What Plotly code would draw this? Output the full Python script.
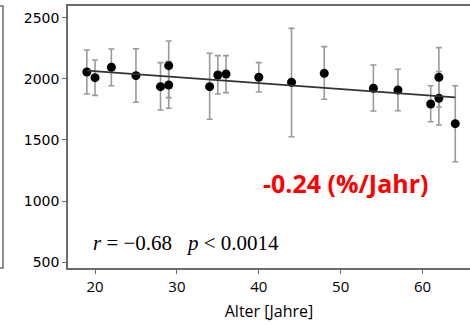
import plotly.graph_objects as go

age = [19, 20, 22, 25, 28, 29, 29, 34, 35, 36, 40, 44, 48, 54, 57, 61, 62, 62, 64]
value = [2057, 2011, 2096, 2027, 1937, 2109, 1951, 1937, 2033, 2041, 2014, 1973, 2046, 1924, 1910, 1795, 2014, 1842, 1634]
err_plus = [181, 145, 150, 221, 197, 202, 191, 274, 158, 150, 120, 442, 219, 191, 170, 150, 243, 219, 311]
err_minus = [180, 145, 151, 218, 191, 262, 191, 267, 156, 153, 121, 446, 212, 186, 170, 145, 244, 219, 312]

fit_x = [19, 64]
fit_y = [2068, 1850]

slope_label = "-0.24 (%/Jahr)"
stats_label = "<i>r</i> = −0.68 &nbsp;&nbsp;<i>p</i> < 0.0014"
x_title = "Alter [Jahre]"
x_ticks = [20, 30, 40, 50, 60]
y_ticks = [500, 1000, 1500, 2000, 2500]

axis_col = "#6b6b6b"

fig = go.Figure()
fig.add_trace(go.Scatter(
    x=age, y=value, mode="markers",
    marker=dict(color="black", size=9),
    error_y=dict(type="data", symmetric=False, array=err_plus, arrayminus=err_minus,
                 color="#9a9a9a", thickness=1.6, width=3),
    showlegend=False,
))
fig.add_trace(go.Scatter(
    x=fit_x, y=fit_y, mode="lines",
    line=dict(color="#333333", width=1.8), showlegend=False,
))

fig.add_annotation(x=50.6, y=1148, text=slope_label, showarrow=False,
                   font=dict(family="Open Sans", size=25, color="#ff0000", weight="bold"))
fig.add_annotation(x=31.1, y=656, text=stats_label, showarrow=False,
                   font=dict(family="Liberation Serif", size=21, color="black"))

# partial neighbouring panel on the left
fig.add_shape(type="rect", xref="paper", yref="paper",
              x0=-0.20, x1=(3 - 68) / 402, y0=0, y1=1,
              line=dict(color=axis_col, width=1.5))

fig.update_layout(
    width=470, height=325,
    margin=dict(l=68, r=0, t=6, b=57),
    paper_bgcolor="white", plot_bgcolor="white",
    xaxis=dict(range=[16.7, 65.8], tickvals=x_ticks, showgrid=False, zeroline=False,
               showline=True, linecolor=axis_col, linewidth=1.5, mirror=True,
               ticks="outside", ticklen=4, tickcolor=axis_col,
               tickfont=dict(family="Open Sans", size=15, color="black"),
               title=dict(text=x_title, font=dict(family="Open Sans", size=16, color="black"),
                          standoff=11)),
    yaxis=dict(range=[451, 2598], tickvals=y_ticks, showgrid=False, zeroline=False,
               showline=True, linecolor=axis_col, linewidth=1.5,
               ticks="outside", ticklen=4, tickcolor=axis_col,
               tickfont=dict(family="DejaVu Sans", size=14, color="black")),
)

fig.write_html("out.html", config={"displayModeBar": False},
               post_script="document.body.style.margin='0px';")
